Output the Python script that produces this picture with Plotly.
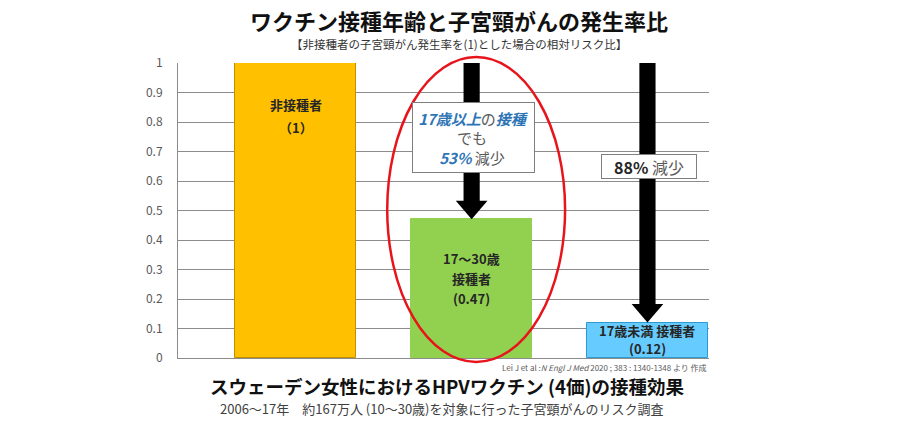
import plotly.graph_objects as go

# ---- data ----
categories = ["非接種者", "17～30歳接種者", "17歳未満接種者"]
risk_ratio = [1.0, 0.47, 0.12]
bar_label_lines = [["非接種者", "（1）"], ["17～30歳", "接種者", "(0.47)"], ["17歳未満 接種者", "(0.12)"]]
y_ticks = [0, 0.1, 0.2, 0.3, 0.4, 0.5, 0.6, 0.7, 0.8, 0.9, 1]
y_tick_text = ["0", "0.1", "0.2", "0.3", "0.4", "0.5", "0.6", "0.7", "0.8", "0.9", "1"]

bar_colors = ["#FFC000", "#92D050", "#66CCFF"]
bar_edges = ["#BF9000", "#92D050", "#2E9AD0"]
label_line_y = [[0.861, 0.783], [0.339, 0.27, 0.202], [0.093, 0.031]]

FONT = "Noto Sans CJK JP"
BLUE = "#2E75B6"
GRAY = "#595959"

x_idx = list(range(len(categories)))

fig = go.Figure()
fig.add_trace(go.Bar(
    x=x_idx, y=risk_ratio, width=0.69,
    marker=dict(color=bar_colors, line=dict(color=bar_edges, width=1)),
    hoverinfo="skip", showlegend=False,
))

shapes = []
annotations = []

# arrows from the top (1.0) down to bars 1 and 2
shaft_half = 0.046
head_half = 0.09
head_h = 0.063
for i in (1, 2):
    v = risk_ratio[i]
    shapes.append(dict(type="rect", xref="x", yref="y",
                       x0=i - shaft_half, x1=i + shaft_half,
                       y0=v + head_h - 0.002, y1=1.0,
                       fillcolor="black", line=dict(width=0), layer="above"))
    shapes.append(dict(type="path", xref="x", yref="y",
                       path=f"M {i - head_half},{v + head_h} L {i + head_half},{v + head_h} L {i},{v} Z",
                       fillcolor="black", line=dict(width=0), layer="above"))

# red ellipse around the middle bar
shapes.append(dict(type="circle", xref="paper", yref="paper",
                   x0=0.394, x1=0.729, y0=-0.0136, y1=1.02,
                   line=dict(color="#E8141B", width=2.5), fillcolor="rgba(0,0,0,0)",
                   layer="above"))

# bar labels (one annotation per line)
for i, (lines, ys) in enumerate(zip(bar_label_lines, label_line_y)):
    for txt, ly in zip(lines, ys):
        annotations.append(dict(x=i, y=ly, xref="x", yref="y", text=f"<b>{txt}</b>",
                                showarrow=False, font=dict(family=FONT, size=13, color="#262626"),
                                align="center", yanchor="middle", borderpad=0))

# boxes on arrows
mid_text = (f"<b><i><span style='color:{BLUE}'>17歳以上</span></i></b>"
            f"<span style='color:{GRAY}'>の</span>"
            f"<b><i><span style='color:{BLUE}'>接種</span></i></b><br>"
            f"<span style='color:{GRAY}'>でも</span><br>"
            f"<b><i><span style='color:{BLUE}'>53%</span></i></b>"
            f"<span style='color:{GRAY}'> 減少</span>")
annotations.append(dict(x=1.01, y=0.746, xref="x", yref="y", text=mid_text,
                        showarrow=False, font=dict(family=FONT, size=15),
                        bgcolor="white", bordercolor="#7F7F7F", borderwidth=1,
                        width=119, height=67, borderpad=1, align="center", yanchor="middle"))
annotations.append(dict(x=2.01, y=0.65, xref="x", yref="y",
                        text=f"<b><span style='color:#262626'>88%</span></b><span style='color:{GRAY}'> 減少</span>",
                        showarrow=False, font=dict(family=FONT, size=16),
                        bgcolor="white", bordercolor="#7F7F7F", borderwidth=1,
                        width=92, height=21, borderpad=1, align="center", yanchor="middle"))

# titles and captions
annotations += [
    dict(x=0.529, y=1.146, xref="paper", yref="paper", showarrow=False,
         text="<b>ワクチン接種年齢と子宮頸がんの発生率比</b>", yanchor="middle", xanchor="center",
         font=dict(family=FONT, size=22, color="#111111")),
    dict(x=0.529, y=1.064, xref="paper", yref="paper", showarrow=False,
         text="【非接種者の子宮頸がん発生率を(1)とした場合の相対リスク比】", yanchor="middle", xanchor="center",
         font=dict(family=FONT, size=11.5, color="#333333")),
    dict(x=1.0, y=-0.031, xref="paper", yref="paper", showarrow=False, xanchor="right", yanchor="middle",
         text="Lei J et al :<i>N Engl J Med</i> 2020 ; 383 : 1340-1348 より 作成",
         font=dict(family=FONT, size=8, color="#595959")),
    dict(x=0.507, y=-0.095, xref="paper", yref="paper", showarrow=False, yanchor="middle", xanchor="center",
         text="<b>スウェーデン女性におけるHPVワクチン (4価)の接種効果</b>",
         font=dict(family=FONT, size=18.5, color="#111111")),
    dict(x=0.497, y=-0.17, xref="paper", yref="paper", showarrow=False, yanchor="middle", xanchor="center",
         text="2006～17年　約167万人 (10～30歳)を対象に行った子宮頸がんのリスク調査",
         font=dict(family=FONT, size=13, color="#404040")),
]

fig.update_layout(
    width=900, height=422,
    margin=dict(l=178, r=191, t=63, b=64),
    paper_bgcolor="white", plot_bgcolor="white",
    shapes=shapes, annotations=annotations,
    bargap=0,
    xaxis=dict(range=[-0.67, 2.35], showticklabels=False, showgrid=False, zeroline=False,
               showline=True, linecolor="#8C8C8C", linewidth=1, fixedrange=True),
    yaxis=dict(range=[0, 1], tickvals=y_ticks, ticktext=y_tick_text,
               showgrid=True, gridcolor="#8C8C8C", gridwidth=1, zeroline=False,
               showline=True, linecolor="#8C8C8C", linewidth=1,
               tickfont=dict(family=FONT, size=12, color="#595959"),
               ticks="", ticklabelstandoff=12, fixedrange=True),
    font=dict(family=FONT),
)

fig.write_html("out.html", config={"displayModeBar": False},
               post_script="document.body.style.margin='0';")
